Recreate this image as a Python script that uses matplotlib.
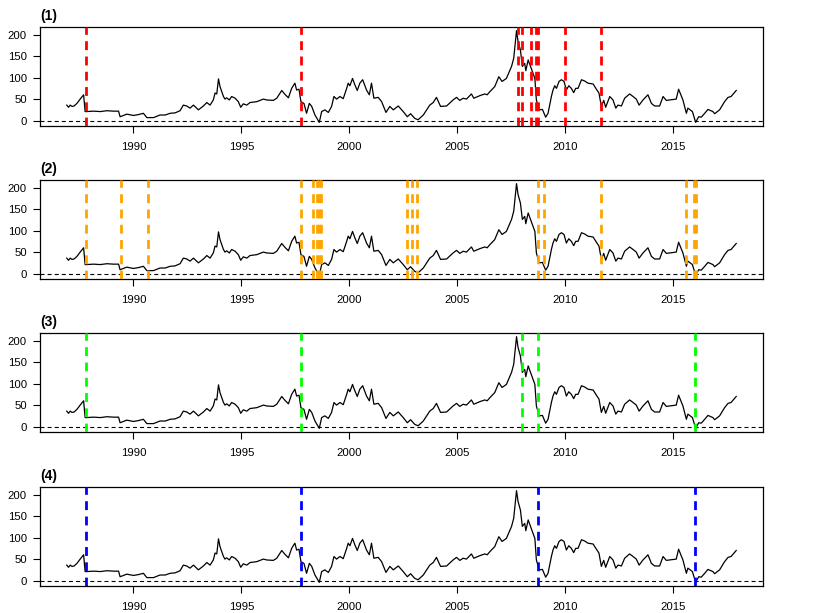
import matplotlib
matplotlib.use("Agg")
import matplotlib.pyplot as plt

plt.rcParams['font.family'] = ['Liberation Sans', 'DejaVu Sans']

# series (decimal year, value)
years = [1986.91, 1986.99, 1987.07, 1987.15, 1987.25, 1987.38, 1987.53, 1987.69, 1987.76, 1987.84,
         1988.15, 1988.46, 1988.77, 1989.07, 1989.31, 1989.38, 1989.69, 1990.00, 1990.23, 1990.46,
         1990.62, 1990.93, 1991.23, 1991.47, 1991.70, 1991.93, 1992.16, 1992.31, 1992.47, 1992.62,
         1992.78, 1993.01, 1993.24, 1993.40, 1993.55, 1993.70, 1993.78, 1993.86, 1993.94, 1994.01,
         1994.17, 1994.24, 1994.32, 1994.44, 1994.55, 1994.71, 1994.86, 1994.97, 1995.09, 1995.25,
         1995.40, 1995.71, 1996.02, 1996.17, 1996.48, 1996.64, 1996.87, 1997.02, 1997.18, 1997.33,
         1997.48, 1997.56, 1997.67, 1997.76, 1997.90, 1998.02, 1998.15, 1998.26, 1998.41, 1998.61,
         1998.72, 1998.87, 1999.03, 1999.18, 1999.29, 1999.41, 1999.57, 1999.72, 1999.88, 1999.95,
         2000.03, 2000.15, 2000.26, 2000.37, 2000.49, 2000.62, 2000.80, 2000.93, 2001.03, 2001.14,
         2001.34, 2001.50, 2001.70, 2001.88, 2002.04, 2002.27, 2002.50, 2002.69, 2002.84, 2003.04,
         2003.19, 2003.43, 2003.73, 2003.89, 2004.04, 2004.23, 2004.51, 2004.81, 2004.97, 2005.12,
         2005.28, 2005.43, 2005.66, 2005.77, 2006.05, 2006.28, 2006.39, 2006.51, 2006.74, 2006.93,
         2007.08, 2007.28, 2007.52, 2007.62, 2007.75, 2007.82, 2007.93, 2008.02, 2008.13, 2008.18,
         2008.29, 2008.40, 2008.49, 2008.60, 2008.67, 2008.80, 2008.95, 2009.10, 2009.21, 2009.37,
         2009.44, 2009.52, 2009.60, 2009.72, 2009.83, 2009.95, 2010.06, 2010.17, 2010.29, 2010.40,
         2010.49, 2010.60, 2010.76, 2010.91, 2011.06, 2011.30, 2011.45, 2011.57, 2011.68, 2011.79,
         2011.88, 2012.07, 2012.22, 2012.35, 2012.45, 2012.61, 2012.76, 2012.99, 2013.15, 2013.30,
         2013.43, 2013.61, 2013.84, 2014.00, 2014.15, 2014.38, 2014.54, 2014.69, 2014.85, 2015.15,
         2015.26, 2015.46, 2015.62, 2015.69, 2015.77, 2015.90, 2016.05, 2016.19, 2016.31, 2016.47,
         2016.62, 2016.85, 2016.93, 2017.16, 2017.39, 2017.55, 2017.69, 2017.93]
values = [36, 31, 36, 33, 34, 40, 50, 60, 21, 21,
          22, 21, 23, 22, 22, 9, 15, 12, 14, 17,
          7, 7, 13, 13, 17, 18, 23, 36, 34, 29,
          36, 25, 34, 42, 36, 48, 64, 62, 97, 79,
          56, 50, 53, 48, 56, 52, 44, 31, 39, 36,
          42, 44, 50, 48, 47, 52, 70, 61, 53, 75,
          87, 71, 73, 44, 40, 17, 40, 33, 13, -4,
          21, 25, 19, 33, 56, 50, 56, 51, 75, 87,
          81, 98, 83, 70, 87, 95, 71, 60, 87, 52,
          54, 44, 19, 33, 25, 34, 21, 9, 16, 5,
          2, 13, 36, 42, 54, 33, 34, 48, 54, 47,
          52, 50, 62, 52, 58, 62, 60, 67, 79, 102,
          91, 98, 126, 145, 209, 184, 164, 126, 133, 116,
          141, 126, 114, 98, 48, 25, 26, 8, 17, 57,
          71, 81, 75, 91, 95, 91, 71, 81, 75, 65,
          75, 75, 95, 92, 87, 85, 73, 64, 33, 47,
          31, 56, 48, 29, 36, 34, 52, 62, 56, 50,
          36, 48, 60, 40, 34, 34, 56, 47, 48, 50,
          73, 48, 17, 29, 26, 21, -4, 9, 8, 17,
          26, 21, 16, 25, 44, 54, 56, 70]

# break dates per panel
breaks_1 = [1987.78, 1997.76, 2007.82, 2007.99, 2008.41, 2008.66, 2008.75, 2010.00, 2011.67]
breaks_2 = [1987.78, 1989.41, 1990.68, 1997.76, 1998.33, 1998.49, 1998.58, 1998.67,
            2002.67, 2002.92, 2003.16, 2008.75, 2009.01, 2011.67, 2015.59, 2015.99, 2016.08]
breaks_3 = [1987.78, 1997.76, 2008.01, 2008.75, 2016.00]
breaks_4 = [1987.78, 1997.76, 2008.75, 2016.00]
panel_titles = ["(1)", "(2)", "(3)", "(4)"]
panel_colors = ["#FF0000", "#FFA500", "#00FF00", "#0000FF"]
panel_breaks = [breaks_1, breaks_2, breaks_3, breaks_4]

fig = plt.figure(figsize=(8.17, 6.13), dpi=100)
W, H = 817, 613
tops = [27, 180, 333, 487]
ax_h = 99

# R-style 4% padding on both axes
xmin, xmax = min(years), max(years)
ymin, ymax = min(values), max(values)
xpad = 0.04 * (xmax - xmin)
ypad = 0.04 * (ymax - ymin)

for title, col, brks, top in zip(panel_titles, panel_colors, panel_breaks, tops):
    ax = fig.add_axes([40 / W, 1 - (top + ax_h) / H, 723 / W, ax_h / H])
    ax.plot(years, values, color='black', lw=0.9, zorder=3)
    ax.axhline(0, color='black', lw=0.8, linestyle=(0, (3.6, 2.8)), zorder=2)
    for b in brks:
        ax.axvline(b, color=col, lw=2.0, linestyle=(0, (3.2, 2.3)), zorder=4)
    ax.set_xlim(xmin - xpad, xmax + xpad)
    ax.set_ylim(ymin - ypad, ymax + ypad)
    ax.set_xticks(range(1990, 2016, 5))
    ax.set_yticks(range(0, 201, 50))
    ax.tick_params(axis='both', direction='out', length=5, width=0.8, labelsize=8.2)
    ax.tick_params(axis='x', pad=6.5)
    ax.tick_params(axis='y', pad=4.5)
    for s in ax.spines.values():
        s.set_linewidth(0.9)
    ax.set_title(title, loc='left', fontsize=10, fontweight='bold', pad=5)

fig.savefig("out.png", dpi=100)
